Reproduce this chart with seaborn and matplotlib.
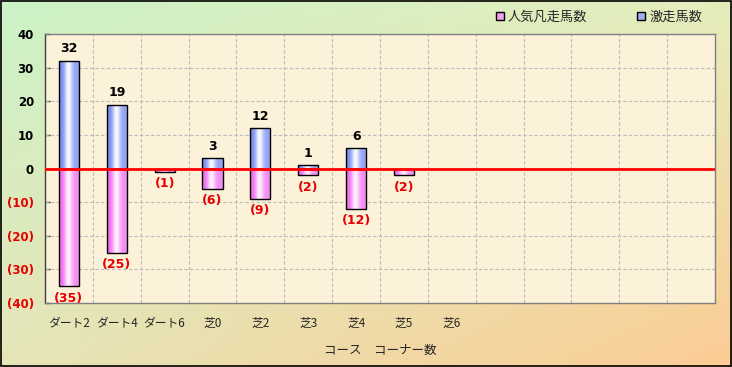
import numpy as np
import pandas as pd
import matplotlib
matplotlib.use("Agg")
import matplotlib.pyplot as plt
import seaborn as sns
from matplotlib.patches import Rectangle

categories = ["ダート2", "ダート4", "ダート6", "芝0", "芝2", "芝3", "芝4", "芝5", "芝6"]
n_slots = 14
gekiso = [32, 19, 0, 3, 12, 1, 6, 0, 0]      # 激走馬数
bonso = [35, 25, 1, 6, 9, 2, 12, 2, 0]       # 人気凡走馬数
yticks = [40, 30, 20, 10, 0, -10, -20, -30, -40]

sns.set_theme(style="white")
plt.rcParams['font.family'] = ['Noto Sans CJK JP', 'DejaVu Sans']

fig = plt.figure(figsize=(7.32, 3.67), dpi=100)

# figure gradient background
bg = fig.add_axes([0, 0, 1, 1], zorder=-10)
bg.axis("off")
tl = np.array([0.80, 0.95, 0.78]); tr = np.array([0.90, 0.93, 0.74])
bl = np.array([0.90, 0.90, 0.72]); br = np.array([0.99, 0.80, 0.58])
H, W = 100, 200
u = np.linspace(0, 1, W)[None, :, None]
v = np.linspace(0, 1, H)[:, None, None]
img = (1 - v) * ((1 - u) * tl + u * tr) + v * ((1 - u) * bl + u * br)
bg.imshow(img, aspect="auto", extent=[0, 1, 0, 1])
bg.set_xlim(0, 1); bg.set_ylim(0, 1)
bg.add_patch(Rectangle((0.001, 0.002), 0.997, 0.995, fill=False, ec="black", lw=1.2, transform=bg.transAxes))

ax = fig.add_axes([45/732, 64/367, 670/732, 269/367])
ax.set_facecolor("#fcf1d9")

order = categories + [" " * (i + 1) for i in range(n_slots - len(categories))]
df = pd.DataFrame({"cat": categories, "pos": gekiso, "neg": [-b for b in bonso]})

sns.barplot(data=df, x="cat", y="pos", order=order, color="#a0b0f0", width=0.42,
            edgecolor="black", linewidth=1, ax=ax, zorder=3)
sns.barplot(data=df, x="cat", y="neg", order=order, color="#f0a0f0", width=0.42,
            edgecolor="black", linewidth=1, ax=ax, zorder=3)

# cylinder-like gradients
def grad(left, center, right):
    t = np.linspace(0, 1, 64)
    w = np.exp(-((t - 0.45) / 0.2) ** 2)
    edge = np.where(t[:, None] < 0.45, np.array(left)[None, :], np.array(right)[None, :])
    c = (1 - w)[:, None] * edge + w[:, None] * np.array(center)
    return c[None, :, :]

gb = grad([0.46, 0.54, 0.94], [0.97, 0.98, 1.0], [0.58, 0.64, 0.95])
gp = grad([0.94, 0.42, 0.94], [1.0, 0.94, 1.0], [0.95, 0.55, 0.95])
for p in list(ax.patches):
    x0, y0 = p.get_x(), p.get_y()
    w, h = p.get_width(), p.get_height()
    if h == 0:
        p.set_visible(False)
        continue
    g = gb if h > 0 else gp
    im = ax.imshow(g, extent=[x0, x0 + w, min(y0, y0 + h), max(y0, y0 + h)],
                   aspect="auto", zorder=2.5, interpolation="bilinear")
    im.set_clip_path(p)
    p.set_facecolor("none")

ax.set_xlim(-0.5, n_slots - 0.5)
ax.set_ylim(-40, 40)

# value labels
for i, (gv, bv) in enumerate(zip(gekiso, bonso)):
    if gv > 0:
        ax.annotate(str(gv), (i, gv), xytext=(0, 4), textcoords="offset points",
                    ha="center", va="bottom", fontsize=9, fontweight="bold",
                    color="black", family="DejaVu Sans")
    if bv > 0:
        ax.annotate(f"({bv})", (i, -bv), xytext=(0, -4), textcoords="offset points",
                    ha="center", va="top", fontsize=9, fontweight="bold",
                    color="#e80000", family="DejaVu Sans")

ax.axhline(0, color="#ff0000", lw=2, zorder=4)

# ticks and grid
ax.set_yticks(yticks)
ax.set_yticklabels(["0" if t == 0 else (str(t) if t > 0 else f"({-t})") for t in yticks],
                   fontsize=8.5, fontweight="bold", family="DejaVu Sans")
for lbl, t in zip(ax.get_yticklabels(), yticks):
    lbl.set_color("black" if t >= 0 else "#e80000")
ax.set_xticks(range(n_slots))
ax.set_xticklabels(categories + [""] * (n_slots - len(categories)), fontsize=8.5)
ax.grid(False)
for yy in yticks:
    if yy not in (40, -40, 0):
        ax.axhline(yy, color="#bcbcbc", lw=0.8, ls=(0, (3, 2)), zorder=1)
for xx in np.arange(0.5, n_slots - 0.5, 1):
    ax.axvline(xx, color="#bcbcbc", lw=0.8, ls=(0, (3, 2)), zorder=1)

ax.tick_params(axis="x", which="both", length=0, pad=10)
ax.tick_params(axis="y", direction="in", length=3.5, width=1, color="#404040", pad=8, left=True)
for s in ax.spines.values():
    s.set_color("#808080"); s.set_linewidth(1)
ax.spines["left"].set_color("#404040")

ax.set_xlabel("コース　コーナー数", fontsize=9, labelpad=10)
ax.set_ylabel("")

handles = [Rectangle((0, 0), 1, 1, fc="#f0a0f0", ec="black", lw=1),
           Rectangle((0, 0), 1, 1, fc="#a0b0f0", ec="black", lw=1)]
fig.legend(handles, ["人気凡走馬数", "激走馬数"], ncol=2, frameon=False,
           loc="center right", bbox_to_anchor=(714/732, 1 - 17/367),
           fontsize=9.5, handlelength=0.6, handleheight=0.6, handletextpad=0.3,
           columnspacing=3.8)

fig.savefig("out.png", dpi=100)
